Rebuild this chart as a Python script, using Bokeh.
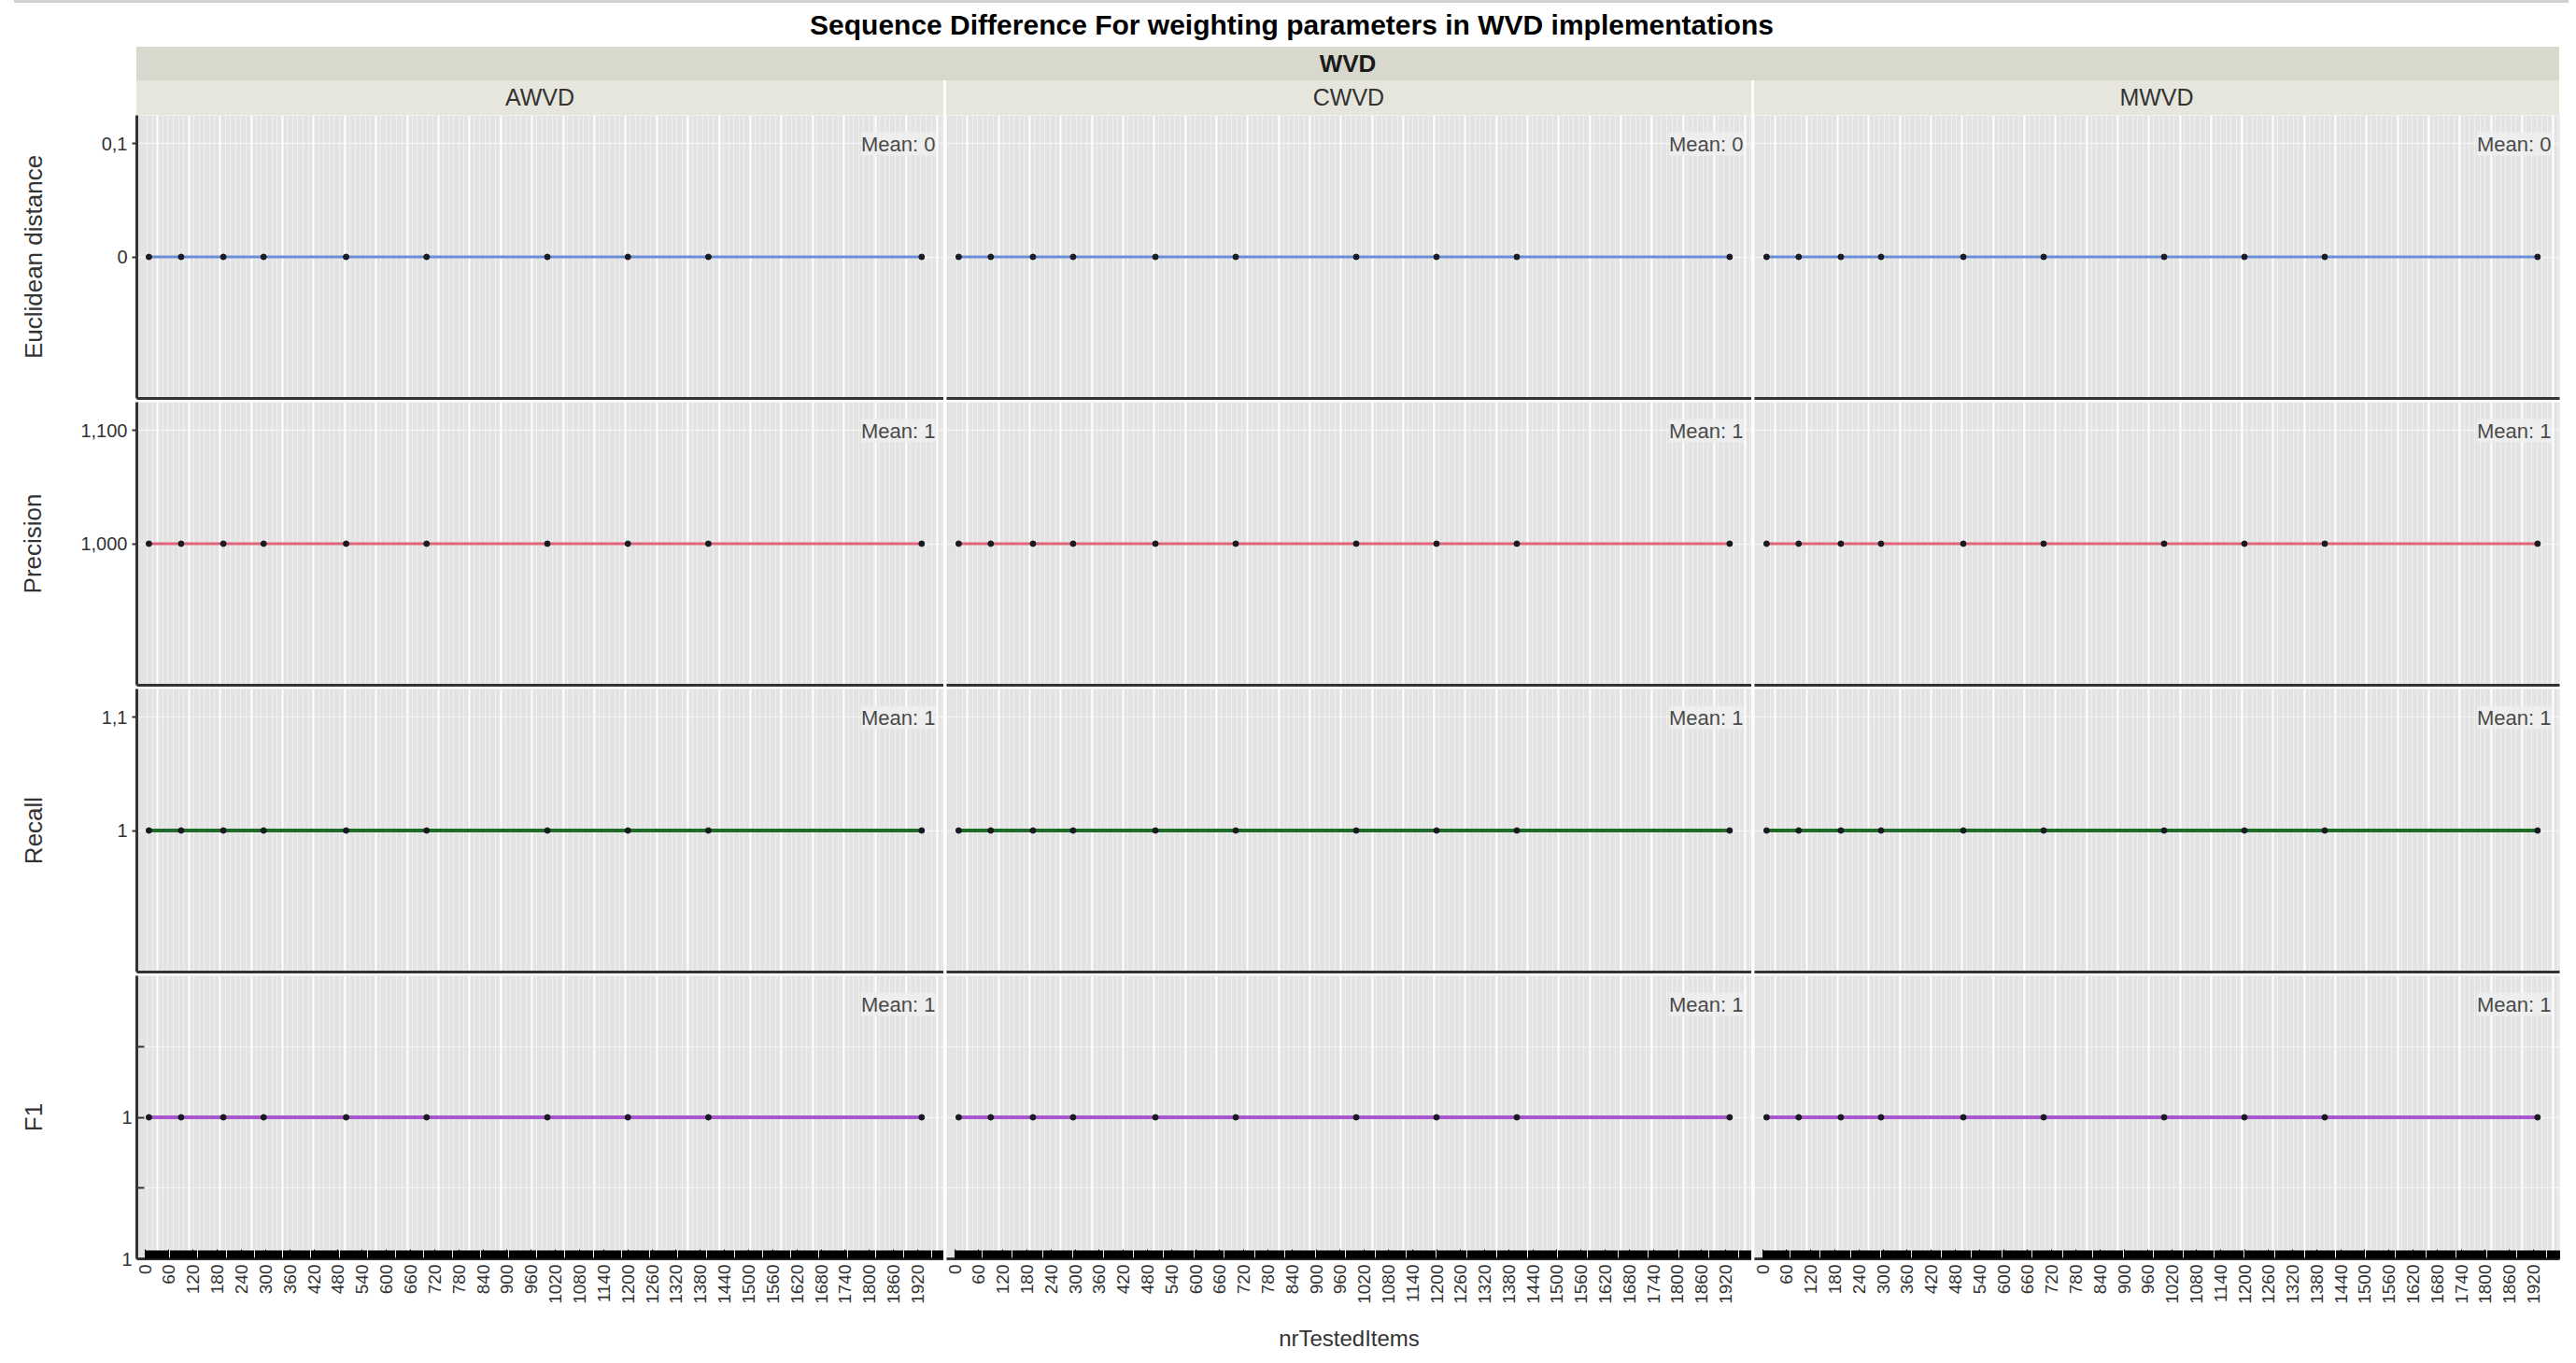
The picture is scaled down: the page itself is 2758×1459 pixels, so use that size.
import math
import numpy as np
from bokeh.plotting import figure
from bokeh.models import Range1d, FixedTicker, Label, Div, Spacer
from bokeh.layouts import column, row
from bokeh.embed import file_html
from bokeh.resources import INLINE

# ---------------- data ----------------
TITLE = "Sequence Difference For weighting parameters in WVD implementations"
GROUP = "WVD"
implementations = ["AWVD", "CWVD", "MWVD"]
metrics = ["Euclidean distance", "Precision", "Recall", "F1"]
x_title = "nrTestedItems"

nr_tested_items = [10, 90, 195, 295, 500, 700, 1000, 1200, 1400, 1930]

awvd_euclidean = [0, 0, 0, 0, 0, 0, 0, 0, 0, 0]
awvd_precision = [1, 1, 1, 1, 1, 1, 1, 1, 1, 1]
awvd_recall = [1, 1, 1, 1, 1, 1, 1, 1, 1, 1]
awvd_f1 = [1, 1, 1, 1, 1, 1, 1, 1, 1, 1]

cwvd_euclidean = [0, 0, 0, 0, 0, 0, 0, 0, 0, 0]
cwvd_precision = [1, 1, 1, 1, 1, 1, 1, 1, 1, 1]
cwvd_recall = [1, 1, 1, 1, 1, 1, 1, 1, 1, 1]
cwvd_f1 = [1, 1, 1, 1, 1, 1, 1, 1, 1, 1]

mwvd_euclidean = [0, 0, 0, 0, 0, 0, 0, 0, 0, 0]
mwvd_precision = [1, 1, 1, 1, 1, 1, 1, 1, 1, 1]
mwvd_recall = [1, 1, 1, 1, 1, 1, 1, 1, 1, 1]
mwvd_f1 = [1, 1, 1, 1, 1, 1, 1, 1, 1, 1]

x_tick_values = [0, 60, 120, 180, 240, 300, 360, 420, 480, 540, 600, 660, 720,
                 780, 840, 900, 960, 1020, 1080, 1140, 1200, 1260, 1320, 1380,
                 1440, 1500, 1560, 1620, 1680, 1740, 1800, 1860, 1920]

euclid_ticks = [0.0, 0.1]
euclid_tick_labels = ["0", "0,1"]
precision_ticks = [1.0, 1.1]
precision_tick_labels = ["1,000", "1,100"]
recall_ticks = [1.0, 1.1]
recall_tick_labels = ["1", "1,1"]
f1_ticks = [0.9, 0.95, 1.0, 1.05]
f1_tick_labels = ["1", "", "1", ""]

series = {
    "AWVD": [awvd_euclidean, awvd_precision, awvd_recall, awvd_f1],
    "CWVD": [cwvd_euclidean, cwvd_precision, cwvd_recall, cwvd_f1],
    "MWVD": [mwvd_euclidean, mwvd_precision, mwvd_recall, mwvd_f1],
}
y_ticks = [euclid_ticks, precision_ticks, recall_ticks, f1_ticks]
y_tick_labels = [euclid_tick_labels, precision_tick_labels, recall_tick_labels, f1_tick_labels]

# ---------------- style / layout ----------------
FONT = "Liberation Sans"
LINE_COLORS = ["#6C8DD8", "#E0647A", "#1E6B2A", "#A858CE"]
LINE_WIDTHS = [3, 3, 4, 4]
Y_RANGES = [(-0.125, 0.125), (0.875, 1.125), (0.875, 1.125), (0.9, 1.1)]
X_RANGE = (-20, 1985)
FRAME_W = [864, 862, 862]
LEFT = [146, 3, 3]
RIGHT = [0, 0, 10]
FRAME_H = 303
LABEL_STANDOFF = [55, 33, 55, 76]
PANEL_BG = "#E3E3E3"
AXIS_COL = "#333333"

grid_major = list(np.arange(32, X_RANGE[1], 77.5))
grid_minor = list(np.arange(6, X_RANGE[1], 12.9))
tick_minor = list(np.arange(0, X_RANGE[1], 2.4))

rows = []
for r, metric in enumerate(metrics):
    figs = []
    for c, impl in enumerate(implementations):
        last = (r == len(metrics) - 1)
        p = figure(frame_width=FRAME_W[c], frame_height=FRAME_H,
                   x_range=Range1d(*X_RANGE), y_range=Range1d(*Y_RANGES[r]),
                   output_backend="svg", toolbar_location=None, tools="",
                   y_axis_location="left" if c == 0 else None,
                   x_axis_location="below",
                   min_border_left=LEFT[c], min_border_right=RIGHT[c],
                   min_border_top=0, min_border_bottom=(100 if last else 4),
                   background_fill_color=PANEL_BG, border_fill_color="white",
                   outline_line_color=None)

        # grids
        p.xgrid.ticker = FixedTicker(ticks=grid_major, minor_ticks=grid_minor)
        p.xgrid.grid_line_color = "white"
        p.xgrid.grid_line_width = 2
        p.xgrid.grid_line_alpha = 0.95
        p.xgrid.minor_grid_line_color = "white"
        p.xgrid.minor_grid_line_alpha = 0.45
        p.xgrid.minor_grid_line_width = 1
        p.ygrid.ticker = FixedTicker(ticks=y_ticks[r])
        p.ygrid.grid_line_color = "white"
        p.ygrid.grid_line_alpha = 0.55
        p.ygrid.grid_line_width = 1.5

        # x axis
        ax = p.xaxis[0]
        ax.axis_line_color = AXIS_COL
        ax.axis_line_width = 3
        if not last:
            ax.ticker = FixedTicker(ticks=[])
            ax.major_tick_in = 0
            ax.major_tick_out = 0
            ax.minor_tick_in = 0
            ax.minor_tick_out = 0
            ax.major_label_text_font_size = "0px"
            ax.major_label_standoff = 0
        else:
            ax.ticker = FixedTicker(ticks=x_tick_values, minor_ticks=tick_minor)
            ax.major_tick_in = 10
            ax.major_tick_out = 0
            ax.minor_tick_in = 9
            ax.minor_tick_out = 0
            ax.major_tick_line_color = "black"
            ax.minor_tick_line_color = "black"
            ax.major_label_orientation = math.pi / 2
            ax.major_label_text_font = FONT
            ax.major_label_text_font_size = "19px"
            ax.major_label_text_color = "#333333"
            ax.major_label_standoff = 6
            if c == 1:
                ax.axis_label = x_title
                ax.axis_label_text_font = FONT
                ax.axis_label_text_font_size = "24px"
                ax.axis_label_text_font_style = "normal"
                ax.axis_label_text_color = "#333333"
                ax.axis_label_standoff = 20

        # y axis
        if c == 0:
            ay = p.yaxis[0]
            ay.ticker = FixedTicker(ticks=y_ticks[r])
            ay.major_label_overrides = dict(zip(y_ticks[r], y_tick_labels[r]))
            ay.axis_line_color = AXIS_COL
            ay.axis_line_width = 3
            ay.major_tick_line_color = AXIS_COL
            ay.major_tick_line_width = 2
            if last:
                ay.major_tick_in = 8
                ay.major_tick_out = 0
            else:
                ay.major_tick_in = 0
                ay.major_tick_out = 5
            ay.minor_tick_line_color = None
            ay.major_label_text_font = FONT
            ay.major_label_text_font_size = "20px"
            ay.major_label_text_color = "#333333"
            ay.major_label_standoff = 5
            ay.axis_label = metric
            ay.axis_label_text_font = FONT
            ay.axis_label_text_font_size = "26px"
            ay.axis_label_text_font_style = "normal"
            ay.axis_label_text_color = "#333333"
            ay.axis_label_standoff = LABEL_STANDOFF[r]

        vals = series[impl][r]
        p.line(nr_tested_items, vals, line_color=LINE_COLORS[r], line_width=LINE_WIDTHS[r])
        p.scatter(nr_tested_items, vals, size=6, color="#1A1A22")

        mean_val = float(np.mean(vals))
        p.add_layout(Label(x=X_RANGE[1], y=Y_RANGES[r][1], x_offset=-9, y_offset=-18,
                           text=f"Mean: {mean_val:g}", text_align="right",
                           text_baseline="top", text_font=FONT, text_font_size="22px",
                           text_color="#4A4A4A", background_fill_color="#EEEEEE",
                           background_fill_alpha=0.85))
        figs.append(p)
    rows.append(row(*figs, spacing=0))

top_rule = row(Spacer(width=15, height=3, margin=0),
               Div(text="", width=2735, height=3, margin=0,
                   styles={"background-color": "#CFCFCF"}), spacing=0)

title_div = Div(text=TITLE, width=2750, height=42, margin=0,
                styles={"font-family": FONT, "font-size": "30px", "font-weight": "bold",
                        "text-align": "center", "line-height": "38px", "color": "#000000"})
title_row = row(Spacer(width=8, height=42, margin=0), title_div, spacing=0)

wvd_div = Div(text=GROUP, width=sum(FRAME_W) + 6, height=36, margin=0,
              styles={"font-family": FONT, "font-size": "26px", "font-weight": "bold",
                      "text-align": "center", "line-height": "36px", "color": "#1A1A1A",
                      "background-color": "#D9D8CC"})
strip_group = row(Spacer(width=LEFT[0], height=36, margin=0), wvd_div,
                  Spacer(width=RIGHT[2], height=36, margin=0), spacing=0)

strip_children = [Spacer(width=LEFT[0], height=37, margin=0)]
for c, impl in enumerate(implementations):
    if c > 0:
        strip_children.append(Spacer(width=LEFT[c], height=37, margin=0))
    strip_children.append(Div(text=impl, width=FRAME_W[c], height=37, margin=0,
                              styles={"font-family": FONT, "font-size": "25px",
                                      "text-align": "center", "line-height": "37px",
                                      "color": "#333333", "background-color": "#E6E6DD"}))
strip_children.append(Spacer(width=RIGHT[2], height=37, margin=0))
strip_impl = row(*strip_children, spacing=0)

layout = column(top_rule, Spacer(width=10, height=5, margin=0), title_row,
                strip_group, strip_impl, *rows, spacing=0)

open("out.html", "w").write(file_html(layout, INLINE))
